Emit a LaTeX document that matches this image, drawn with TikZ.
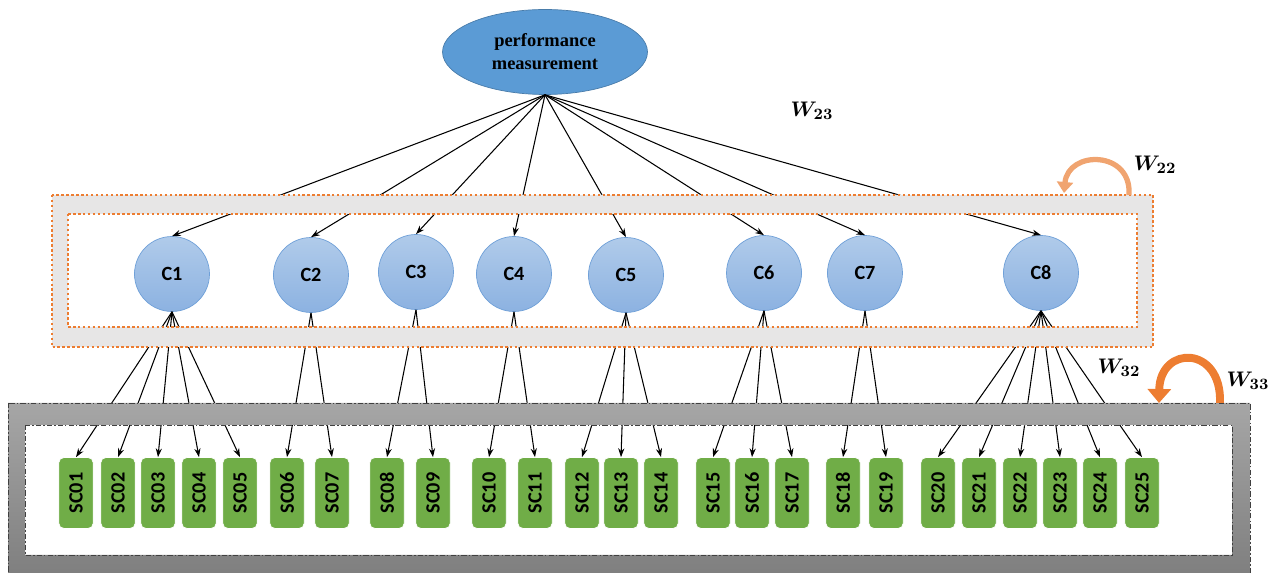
\documentclass[tikz,border=0pt]{standalone}
\usepackage{fontspec}
\setmainfont{Carlito}
\newfontfamily\pmfont{Liberation Serif}
\usepackage{bm}
\usepackage{xcolor}
\usetikzlibrary{arrows.meta, shapes.geometric, calc}
\definecolor{pmblue}{HTML}{5B9BD5}
\definecolor{crittop}{HTML}{B0CBEA}
\definecolor{critbot}{HTML}{8CB2E1}
\definecolor{critedge}{HTML}{6FA0D8}
\definecolor{scgreen}{HTML}{70AD47}
\definecolor{bandlight}{HTML}{E7E6E6}
\definecolor{bandorange}{HTML}{ED7D31}
\definecolor{bandtop}{HTML}{A6A6A6}
\definecolor{bandbot}{HTML}{7F7F7F}
\definecolor{loopsoft}{HTML}{F0A470}

\begin{document}
\begin{tikzpicture}[x=0.02cm, y=-0.02cm,
  goal/.style={ellipse, draw=pmblue!80!black, fill=pmblue, minimum width=4.1cm, minimum height=1.7cm, inner sep=0pt, align=center, font=\pmfont\bfseries\fontsize{10.5}{13}\selectfont},
  crit/.style={circle, draw=critedge, top color=crittop, bottom color=critbot, minimum size=1.5cm, inner sep=0pt, font=\bfseries\fontsize{11.5}{13}\selectfont},
  subc/.style={rounded corners=3pt, fill=scgreen, draw=white, minimum width=1.42cm, minimum height=0.69cm, inner sep=0pt, rotate=90, font=\bfseries\fontsize{11.5}{13}\selectfont},
  wlabel/.style={font=\fontsize{12.5}{14}\selectfont},
  edge/.style={-{Stealth[length=5pt, width=3.5pt]}, semithick},
  orangeline/.style={draw=bandorange, line width=1.4pt, dash pattern=on 1.4pt off 1.4pt},
  grayline/.style={draw=black!75, thin, dash pattern=on 3pt off 1.2pt on 0.8pt off 1.2pt},
  loopa/.style={-{Triangle[width=0.32cm, length=0.22cm]}, line width=3pt, loopsoft},
  loopb/.style={-{Triangle[width=0.46cm, length=0.28cm]}, line width=4.5pt, bandorange}
]
\useasboundingbox (0,0) rectangle (1271,573);

\node[goal] (pm) at (545,52) {performance\\measurement};

\node[crit] (c1) at (172,274) {C1};
\node[crit] (c2) at (311,275) {C2};
\node[crit] (c3) at (416,272) {C3};
\node[crit] (c4) at (514,274) {C4};
\node[crit] (c5) at (626,275) {C5};
\node[crit] (c6) at (764,273) {C6};
\node[crit] (c7) at (865,273) {C7};
\node[crit] (c8) at (1041,273) {C8};

\foreach \n/\x in {01/76, 02/118, 03/158, 04/199, 05/240, 06/287, 07/332, 08/387, 09/433,
  10/489, 11/535, 12/582, 13/621, 14/661, 15/713, 16/752, 17/792, 18/843, 19/886,
  20/938, 21/979, 22/1020, 23/1060, 24/1100, 25/1142}
  \node[subc] (sc\n) at (\x,493) {SC\n};

\foreach \c in {c1,c2,c3,c4,c5,c6,c7,c8}
  \draw[edge] (pm.south) -- (\c.north);

\foreach \c/\s in {c1/01, c1/02, c1/03, c1/04, c1/05, c2/06, c2/07, c3/08, c3/09,
  c4/10, c4/11, c5/12, c5/13, c5/14, c6/15, c6/16, c6/17, c7/18, c7/19,
  c8/20, c8/21, c8/22, c8/23, c8/24, c8/25}
  \draw[edge] (\c.south) -- (sc\s.east);

\fill[bandlight, even odd rule] (52,195) rectangle (1153,347) (68,214) rectangle (1137,327);
\draw[orangeline] (52,195) rectangle (1153,347);
\draw[orangeline] (68,214) rectangle (1137,327);

\shade[top color=bandtop, bottom color=bandbot, even odd rule] (8,403) rectangle (1250,575) (25,425) rectangle (1232,555);
\draw[grayline] (8,403) rectangle (1250,575);
\draw[grayline] (25,425) rectangle (1232,555);

\coordinate (l22a) at (1129,195);
\coordinate (l22b) at (1064,193);
\draw[loopa] (l22a) .. controls (1132,150) and (1068,150) .. (l22b);

\coordinate (l33a) at (1220,403);
\coordinate (l33b) at (1159,403);
\draw[loopb] (l33a) .. controls (1222,345) and (1160,345) .. (l33b);

\node[wlabel] (w23) at (812,111) {$\bm{W}_{\bm{23}}$};
\node[wlabel] (w22) at (1155,165) {$\bm{W}_{\bm{22}}$};
\node[wlabel] (w32) at (1119,368) {$\bm{W}_{\bm{32}}$};
\node[wlabel] (w33) at (1248,381) {$\bm{W}_{\bm{33}}$};
\end{tikzpicture}
\end{document}
